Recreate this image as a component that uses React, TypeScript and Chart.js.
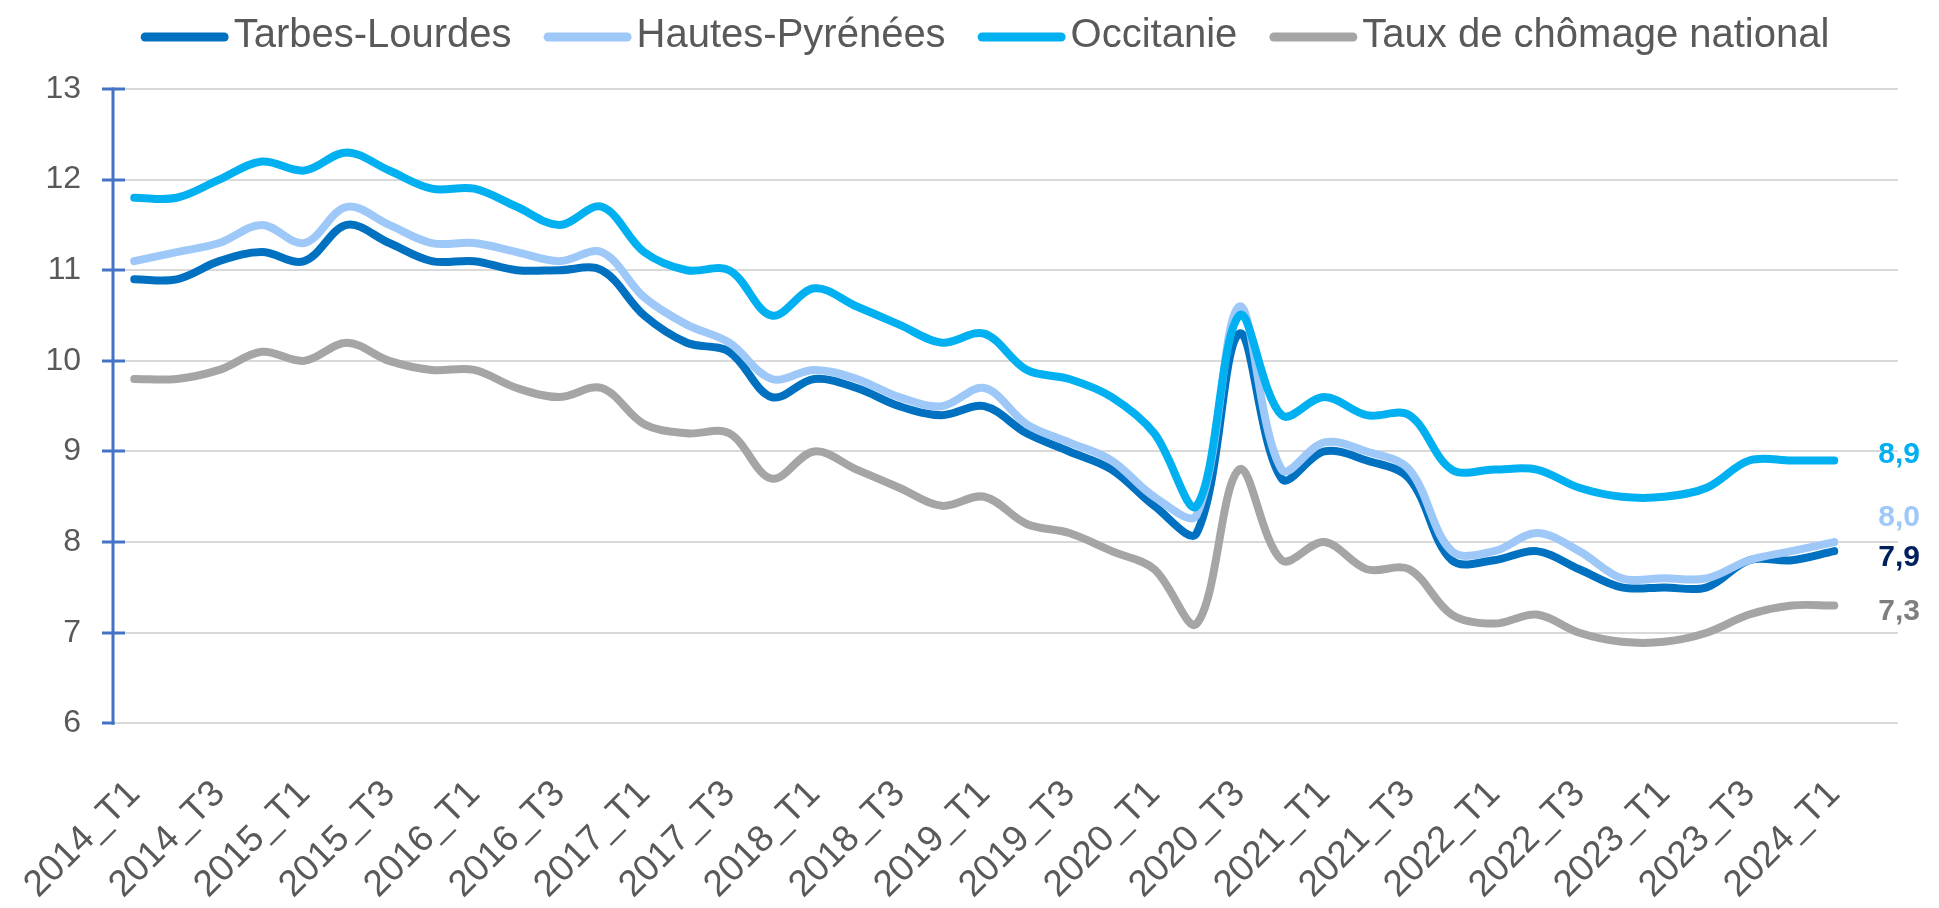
import React, { useEffect, useRef } from "react";
import { Chart, registerables } from "chart.js";

Chart.register(...registerables);

// ---------- data ----------
const quarters = [
  "2014_T1", "2014_T2", "2014_T3", "2014_T4",
  "2015_T1", "2015_T2", "2015_T3", "2015_T4",
  "2016_T1", "2016_T2", "2016_T3", "2016_T4",
  "2017_T1", "2017_T2", "2017_T3", "2017_T4",
  "2018_T1", "2018_T2", "2018_T3", "2018_T4",
  "2019_T1", "2019_T2", "2019_T3", "2019_T4",
  "2020_T1", "2020_T2", "2020_T3", "2020_T4",
  "2021_T1", "2021_T2", "2021_T3", "2021_T4",
  "2022_T1", "2022_T2", "2022_T3", "2022_T4",
  "2023_T1", "2023_T2", "2023_T3", "2023_T4",
  "2024_T1",
];

const tarbesLourdes = [
  10.9, 10.9, 11.1, 11.2, 11.1, 11.5, 11.3, 11.1, 11.1, 11.0,
  11.0, 11.0, 10.5, 10.2, 10.1, 9.6, 9.8, 9.7, 9.5, 9.4,
  9.5, 9.2, 9.0, 8.8, 8.4, 8.1, 10.3, 8.7, 9.0, 8.9,
  8.7, 7.8, 7.8, 7.9, 7.7, 7.5, 7.5, 7.5, 7.8, 7.8,
  7.9,
];

const hautesPyrenees = [
  11.1, 11.2, 11.3, 11.5, 11.3, 11.7, 11.5, 11.3, 11.3, 11.2,
  11.1, 11.2, 10.7, 10.4, 10.2, 9.8, 9.9, 9.8, 9.6, 9.5,
  9.7, 9.3, 9.1, 8.9, 8.5, 8.3, 10.6, 8.8, 9.1, 9.0,
  8.8, 7.9, 7.9, 8.1, 7.9, 7.6, 7.6, 7.6, 7.8, 7.9,
  8.0,
];

const occitanie = [
  11.8, 11.8, 12.0, 12.2, 12.1, 12.3, 12.1, 11.9, 11.9, 11.7,
  11.5, 11.7, 11.2, 11.0, 11.0, 10.5, 10.8, 10.6, 10.4, 10.2,
  10.3, 9.9, 9.8, 9.6, 9.2, 8.4, 10.5, 9.4, 9.6, 9.4,
  9.4, 8.8, 8.8, 8.8, 8.6, 8.5, 8.5, 8.6, 8.9, 8.9,
  8.9,
];

const national = [
  9.8, 9.8, 9.9, 10.1, 10.0, 10.2, 10.0, 9.9, 9.9, 9.7,
  9.6, 9.7, 9.3, 9.2, 9.2, 8.7, 9.0, 8.8, 8.6, 8.4,
  8.5, 8.2, 8.1, 7.9, 7.7, 7.1, 8.8, 7.8, 8.0, 7.7,
  7.7, 7.2, 7.1, 7.2, 7.0, 6.9, 6.9, 7.0, 7.2, 7.3,
  7.3,
];

const seriesNames = ["Tarbes-Lourdes", "Hautes-Pyrénées", "Occitanie", "Taux de chômage national"];
const seriesValues = [tarbesLourdes, hautesPyrenees, occitanie, national];
const yMin = 6;
const yMax = 13;

// ---------- styles ----------
const FONT = "'Liberation Sans', Arial, sans-serif";
const lineColors = ["#0070C0", "#9DC8F8", "#00B0F0", "#A5A5A5"];
const endLabelColors = ["#002060", "#9DC8F8", "#00B0F0", "#7F7F7F"];
const endLabelDy = [7, -24, -6, 6];
const drawOrder = [4, 3, 2, 1];
const textGray = "#595959";
const axisBlue = "#4472C4";

const legendPlugin = {
  id: "customLegend",
  afterDraw(chart: any) {
    const ctx = chart.ctx;
    ctx.save();
    ctx.font = `40px ${FONT}`;
    const items = chart.data.datasets.map((ds: any) => ({
      text: ds.label,
      color: ds.borderColor,
      w: ctx.measureText(ds.label).width,
    }));
    const markerW = 88;
    const gap = 5;
    const itemGap = 32;
    const total =
      items.reduce((s: number, it: any) => s + markerW + gap + it.w, 0) + itemGap * (items.length - 1);
    let x = 985 - total / 2;
    const y = 37;
    items.forEach((it: any) => {
      ctx.strokeStyle = it.color;
      ctx.lineWidth = 9;
      ctx.lineCap = "round";
      ctx.beginPath();
      ctx.moveTo(x + 4.5, y);
      ctx.lineTo(x + markerW - 4.5, y);
      ctx.stroke();
      x += markerW + gap;
      ctx.fillStyle = textGray;
      ctx.textBaseline = "middle";
      ctx.textAlign = "left";
      ctx.fillText(it.text, x, y - 1);
      x += it.w + itemGap;
    });
    ctx.restore();
  },
};

const axisTicksPlugin = {
  id: "axisCrossTicks",
  afterDraw(chart: any) {
    const ctx = chart.ctx;
    const ys = chart.scales.y;
    const ax = chart.chartArea.left;
    ctx.save();
    ctx.strokeStyle = axisBlue;
    ctx.lineWidth = 3;
    ys.ticks.forEach((t: any) => {
      const py = Math.round(ys.getPixelForValue(t.value));
      ctx.beginPath();
      ctx.moveTo(ax - 11, py);
      ctx.lineTo(t.value === yMin ? ax + 1.5 : ax + 12, py);
      ctx.stroke();
    });
    ctx.beginPath();
    ctx.moveTo(ax, chart.chartArea.top - 1.5);
    ctx.lineTo(ax, chart.chartArea.bottom + 1.5);
    ctx.stroke();
    ctx.restore();
  },
};

const endLabelsPlugin = {
  id: "endLabels",
  afterDatasetsDraw(chart: any) {
    const ctx = chart.ctx;
    ctx.save();
    ctx.font = `bold 30px ${FONT}`;
    ctx.textAlign = "left";
    ctx.textBaseline = "middle";
    chart.data.datasets.forEach((ds: any, i: number) => {
      const meta = chart.getDatasetMeta(i);
      const last = meta.data[meta.data.length - 1];
      const v = seriesValues[i][seriesValues[i].length - 1];
      ctx.fillStyle = endLabelColors[i];
      ctx.fillText(v.toFixed(1).replace(".", ","), last.x + 44, last.y + endLabelDy[i]);
    });
    ctx.restore();
  },
};

export default function App() {
  const canvasRef = useRef<HTMLCanvasElement | null>(null);

  useEffect(() => {
    document.body.style.margin = "0";
    const canvas = canvasRef.current;
    if (!canvas) return;
    const chart = new Chart(canvas, {
      type: "line",
      data: {
        datasets: seriesNames.map((name, i) => ({
          label: name,
          data: seriesValues[i].map((v, k) => ({ x: k, y: v })),
          borderColor: lineColors[i],
          backgroundColor: lineColors[i],
          borderWidth: 8,
          pointRadius: 0,
          pointHoverRadius: 0,
          tension: 0.35,
          borderCapStyle: "round",
          borderJoinStyle: "round",
          fill: false,
          order: drawOrder[i],
        })),
      },
      options: {
        animation: false,
        responsive: false,
        devicePixelRatio: 1,
        events: [],
        layout: { padding: { top: 89, right: 41, bottom: 0, left: 0 } },
        plugins: {
          legend: { display: false },
          tooltip: { enabled: false },
        },
        scales: {
          x: {
            type: "linear",
            min: -0.5,
            max: 41.5,
            grid: { display: false },
            border: { display: false },
            afterBuildTicks: (axis: any) => {
              axis.ticks = quarters
                .map((_, k) => k)
                .filter((k) => k % 2 === 0)
                .map((k) => ({ value: k }));
            },
            afterFit: (axis: any) => {
              axis.height = 908 - 723.3;
              axis.paddingLeft = 0;
              axis.paddingRight = 0;
            },
            ticks: {
              autoSkip: false,
              maxRotation: 45,
              minRotation: 45,
              padding: 41,
              color: textGray,
              font: { family: FONT, size: 37 },
              callback: (value: any) => quarters[value] ?? "",
            },
          },
          y: {
            min: yMin,
            max: yMax,
            grid: { color: "#D9D9D9", lineWidth: 2, drawTicks: false },
            border: { display: false },
            afterFit: (axis: any) => {
              axis.width = 113;
            },
            ticks: {
              stepSize: 1,
              padding: 32,
              color: textGray,
              font: { family: FONT, size: 32 },
            },
          },
        },
      },
      plugins: [legendPlugin, axisTicksPlugin, endLabelsPlugin],
    } as any);
    return () => chart.destroy();
  }, []);

  return (
    <div style={{ width: 1939, height: 908, position: "relative", background: "#ffffff" }}>
      <canvas ref={canvasRef} width={1939} height={908} style={{ display: "block" }} />
    </div>
  );
}
